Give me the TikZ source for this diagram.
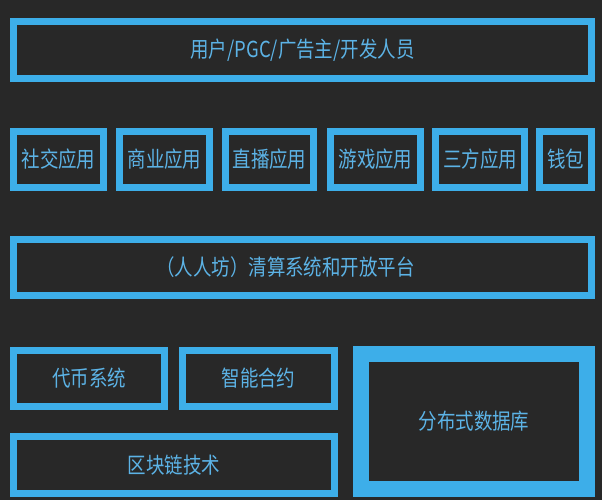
\documentclass[tikz,border=0pt]{standalone}
\usepackage{fontspec}
\newfontfamily\cjk[FakeStretch=0.84]{Noto Sans CJK SC}
\definecolor{bg}{HTML}{282828}
\definecolor{edge}{HTML}{3DAEE9}
\definecolor{txt}{HTML}{5CB3E6}
\begin{document}
\begin{tikzpicture}[x=1pt,y=-1pt,
  box/.style={draw=edge, fill=bg, line width=7pt, inner sep=0pt,
    text=txt, font=\cjk\fontsize{22}{24}\selectfont},
  bigbox/.style={box, line width=16pt}]
\fill[bg] (0,0) rectangle (602,500);
\useasboundingbox (0,0) rectangle (602,500);
\node[box, minimum width=578pt, minimum height=57pt] (users) at (302.5,50) {用户/PGC/广告主/开发人员};
\node[box, minimum width=90pt, minimum height=56pt] (social) at (58.5,159.5) {社交应用};
\node[box, minimum width=90pt, minimum height=56pt] (biz) at (164.5,159.5) {商业应用};
\node[box, minimum width=88pt, minimum height=56pt] (live) at (269.5,159.5) {直播应用};
\node[box, minimum width=90pt, minimum height=56pt] (game) at (375.5,159.5) {游戏应用};
\node[box, minimum width=89pt, minimum height=56pt] (third) at (480,159.5) {三方应用};
\node[box, minimum width=52pt, minimum height=56pt] (wallet) at (565.5,159.5) {钱包};
\node[box, minimum width=578pt, minimum height=56pt] (clear) at (302.5,267.5) {（人人坊）清算系统和开放平台\hspace*{34pt}};
\node[box, minimum width=151pt, minimum height=56pt] (token) at (89,378.5) {代币系统};
\node[box, minimum width=152pt, minimum height=56pt] (contract) at (258.5,378.5) {智能合约};
\node[box, minimum width=321pt, minimum height=57pt] (chain) at (174,465) {区块链技术};
\node[bigbox, minimum width=226pt, minimum height=135pt] (db) at (474,421.5) {分布式数据库};
\end{tikzpicture}
\end{document}
